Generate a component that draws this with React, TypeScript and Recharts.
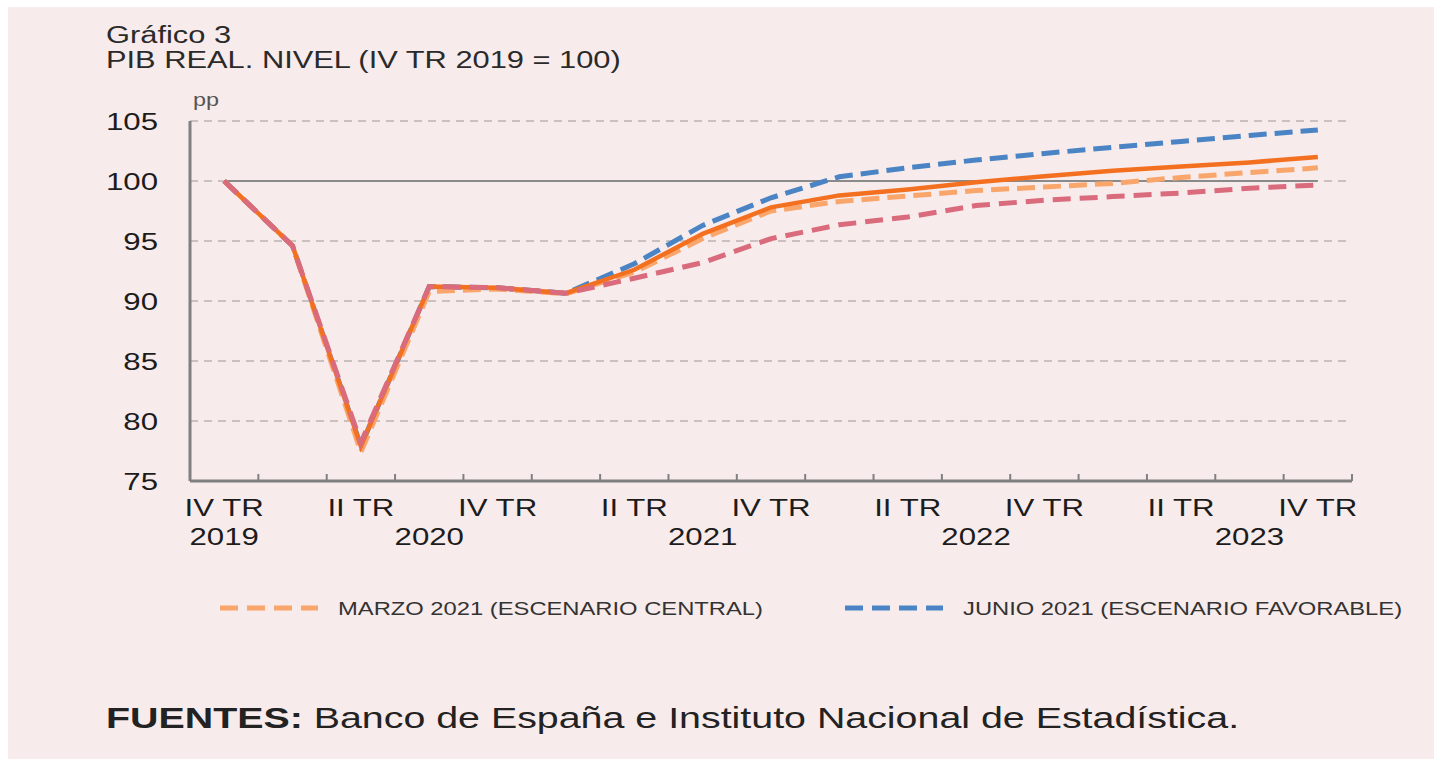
import { LineChart, Line, XAxis, YAxis, CartesianGrid, ReferenceLine } from 'recharts';

// IV TR 2019 ... IV TR 2023
const quarters = [
  'IV TR 2019', 'I TR 2020', 'II TR 2020', 'III TR 2020', 'IV TR 2020',
  'I TR 2021', 'II TR 2021', 'III TR 2021', 'IV TR 2021',
  'I TR 2022', 'II TR 2022', 'III TR 2022', 'IV TR 2022',
  'I TR 2023', 'II TR 2023', 'III TR 2023', 'IV TR 2023',
];
const quarterLabels = ['IV TR', '', 'II TR', '', 'IV TR', '', 'II TR', '', 'IV TR', '', 'II TR', '', 'IV TR', '', 'II TR', '', 'IV TR'];
const yearLabels = ['2019', '', '', '2020', '', '', '', '2021', '', '', '', '2022', '', '', '', '2023', ''];
const yTicks = [75, 80, 85, 90, 95, 100, 105];

const marzoCentral = [100, 94.6, 77.4, 90.8, 91.0, 90.6, 92.4, 95.2, 97.5, 98.3, 98.75, 99.2, 99.5, 99.8, 100.3, 100.7, 101.1];
const junioCentral = [100, 94.6, 77.9, 91.2, 91.1, 90.65, 92.6, 95.6, 97.8, 98.8, 99.3, 99.9, 100.4, 100.85, 101.2, 101.55, 102.0];
const junioFavorable = [100, 94.6, 77.9, 91.2, 91.1, 90.65, 93.1, 96.3, 98.6, 100.35, 101.1, 101.75, 102.3, 102.8, 103.3, 103.8, 104.25];
const junioDesfavorable = [100, 94.6, 78.2, 91.2, 91.1, 90.65, 91.9, 93.2, 95.2, 96.35, 97.0, 97.95, 98.4, 98.7, 99.0, 99.4, 99.67];

const legendItems = [
  { label: 'MARZO 2021 (ESCENARIO CENTRAL)', color: '#f9a66c' },
  { label: 'JUNIO 2021 (ESCENARIO FAVORABLE)', color: '#4a84c4' },
];

const data = quarters.map((q, i) => ({
  x: i,
  name: q,
  marzo: marzoCentral[i],
  central: junioCentral[i],
  favorable: junioFavorable[i],
  desfavorable: junioDesfavorable[i],
}));

const labelTicks = quarters.map((_, i) => i);

const FONT = '"Liberation Sans", Arial, Helvetica, sans-serif';
const STRETCH = 1.3;

// label under each quarter + a small upward mark at the boundary to its right
const XTick = (props: any) => {
  const { x, y, payload, width } = props;
  const i = payload.value;
  const step = (width || 1162) / quarters.length;
  return (
    <g>
      <line x1={x + step / 2} x2={x + step / 2} y1={y} y2={y - 7} stroke="#808080" strokeWidth={2} />
      <g transform={`translate(${x},${y}) scale(${STRETCH},1)`}>
        <text textAnchor="middle" y={35} fontSize={24} fill="#1c1c1c" fontFamily={FONT}>
          {quarterLabels[i]}
        </text>
        <text textAnchor="middle" y={64} fontSize={24} fill="#1c1c1c" fontFamily={FONT}>
          {yearLabels[i]}
        </text>
      </g>
    </g>
  );
};

const YTick = (props: any) => {
  const { x, y, payload } = props;
  return (
    <g transform={`translate(${x},${y})`}>
      <text transform={`scale(${STRETCH},1)`} textAnchor="end" y={8.5} fontSize={24} fill="#1c1c1c" fontFamily={FONT}>
        {payload.value}
      </text>
    </g>
  );
};

const Stretched = ({ left, top, size, children, color = '#2a2a2a', scale = STRETCH }: any) => (
  <div
    style={{
      position: 'absolute',
      left,
      top,
      fontSize: size,
      lineHeight: 1,
      color,
      whiteSpace: 'nowrap',
      transform: `scaleX(${scale})`,
      transformOrigin: 'left top',
      fontFamily: FONT,
    }}
  >
    {children}
  </div>
);

export default function App() {
  return (
    <div style={{ position: 'absolute', left: 0, top: 0, width: 1434, height: 759, background: '#fff', overflow: 'hidden' }}>
      <div style={{ position: 'absolute', left: 8, top: 7, width: 1426, height: 752, background: '#f8ebeb' }} />

      <Stretched left={106} top={24} size={23} scale={1.34}>Gráfico 3</Stretched>
      <Stretched left={106} top={49} size={23} scale={1.34}>PIB REAL. NIVEL (IV TR 2019 = 100)</Stretched>
      <Stretched left={193} top={91} size={18} color="#555">pp</Stretched>

      <div style={{ position: 'absolute', left: 0, top: 0 }}>
        <LineChart width={1434} height={560} data={data} margin={{ top: 121, right: 82, bottom: 0, left: 0 }}>
          <CartesianGrid vertical={false} stroke="#bcb3b3" strokeWidth={1.5} strokeDasharray="8 6" />
          <XAxis
            dataKey="x"
            type="number"
            domain={[-0.5, 16.5]}
            ticks={labelTicks}
            interval={0}
            height={79}
            tickSize={0}
            tickMargin={0}
            tickLine={false}
            axisLine={{ stroke: '#808080', strokeWidth: 3 }}
            tick={(p: any) => <XTick {...p} />}
          />
          <YAxis
            domain={[75, 105]}
            ticks={yTicks}
            width={190}
            tickSize={0}
            tickMargin={32}
            tickLine={false}
            axisLine={{ stroke: '#808080', strokeWidth: 3 }}
            tick={(p: any) => <YTick {...p} />}
            interval={0}
          />
          <ReferenceLine
            segment={[{ x: 0, y: 100 }, { x: 16, y: 100 }]}
            stroke="#8a8a8a"
            strokeWidth={2}
          />
          <Line dataKey="favorable" stroke="#4a84c4" strokeWidth={5} strokeDasharray="18 8" dot={false} isAnimationActive={false} />
          <Line dataKey="marzo" stroke="#f9a66c" strokeWidth={5} strokeDasharray="18 8" dot={false} isAnimationActive={false} />
          <Line dataKey="central" stroke="#f37021" strokeWidth={4.5} dot={false} isAnimationActive={false} />
          <Line dataKey="desfavorable" stroke="#d96b7d" strokeWidth={5} strokeDasharray="18 9" dot={false} isAnimationActive={false} />
        </LineChart>
      </div>

      {legendItems.map((item, i) => (
        <div key={item.label}>
          <svg style={{ position: 'absolute', left: i === 0 ? 220 : 845, top: 603 }} width={100} height={10}>
            <line x1={0} y1={5} x2={98} y2={5} stroke={item.color} strokeWidth={5} strokeDasharray="18 9" />
          </svg>
          <Stretched left={i === 0 ? 338 : 963} top={599} size={19} color="#333" scale={1.25}>
            {item.label}
          </Stretched>
        </div>
      ))}

      <Stretched left={106} top={704} size={29} color="#222" scale={1.357}>
        <b>FUENTES:</b> Banco de España e Instituto Nacional de Estadística.
      </Stretched>
    </div>
  );
}
